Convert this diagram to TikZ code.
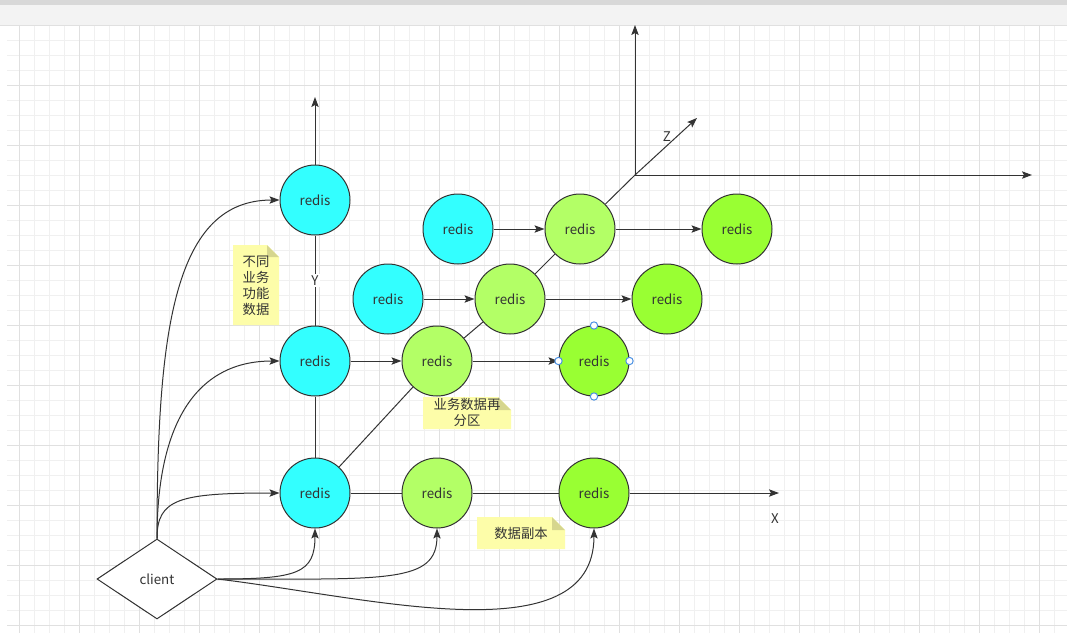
\documentclass[tikz,border=0pt]{standalone}
\usepackage{fontspec}
\setmainfont{Noto Sans CJK SC}
\usetikzlibrary{shapes.geometric,arrows.meta}
\definecolor{cyanr}{HTML}{33FFFF}
\definecolor{lgreen}{HTML}{B3FF66}
\definecolor{dgreen}{HTML}{99FF33}
\definecolor{strk}{HTML}{333333}
\definecolor{notey}{HTML}{FDFDA9}
\definecolor{notefold}{HTML}{D6D68E}
\definecolor{gminor}{HTML}{F0F0F0}
\definecolor{gmajor}{HTML}{E0E0E0}
\definecolor{hdl}{HTML}{4A90E2}
\definecolor{topdark}{HTML}{D8D8D8}
\definecolor{toplight}{HTML}{F3F3F3}
\begin{document}
\begin{tikzpicture}[x=0.75pt,y=-0.75pt,
  txt/.style={font=\fontsize{10pt}{12pt}\selectfont,text=strk},
  redis/.style={circle,draw=strk,line width=0.75pt,minimum size=52.5pt,inner sep=0pt,txt},
  cy/.style={redis,fill=cyanr},
  lg/.style={redis,fill=lgreen},
  dg/.style={redis,fill=dgreen},
  conn/.style={draw=strk,line width=0.75pt},
  arr/.style={conn,-{Stealth[length=7.5pt,width=5.5pt,inset=1.5pt]}},
  lab/.style={txt,inner sep=1pt},
  notetext/.style={txt,align=center,inner sep=0pt},
  handle/.style={circle,draw=hdl,fill=white,line width=0.75pt,minimum size=5.5pt,inner sep=0pt},
  client/.style={diamond,draw=strk,fill=white,line width=0.75pt,minimum width=90pt,minimum height=60pt,inner sep=0pt,txt}]
\useasboundingbox (0,0) rectangle (1067,633);
% background
\fill[white] (0,0) rectangle (1067,633);
\foreach \x in {19,34,...,1066} \draw[gminor,line width=0.75pt] (\x,25) -- (\x,633);
\foreach \y in {40,55,...,632} \draw[gminor,line width=0.75pt] (7,\y) -- (1067,\y);
\foreach \x in {19,79,...,1066} \draw[gmajor,line width=0.75pt] (\x,25) -- (\x,633);
\foreach \y in {85,145,...,632} \draw[gmajor,line width=0.75pt] (7,\y) -- (1067,\y);
\fill[topdark] (0,0) rectangle (1067,5);
\fill[toplight] (0,5) rectangle (1067,25);
\draw[gmajor,line width=0.75pt] (0,25) -- (1067,25);

% nodes
\node[cy] (r1) at (315,200) {redis};
\node[cy] (r2) at (315,361) {redis};
\node[cy] (r3) at (315,493) {redis};
\node[cy] (c2) at (388,299) {redis};
\node[cy] (c1) at (458,229) {redis};
\node[lg] (l1) at (437,361) {redis};
\node[lg] (l2) at (510,299) {redis};
\node[lg] (l3) at (580,229) {redis};
\node[lg] (l4) at (437,493) {redis};
\node[dg] (g1) at (737,229) {redis};
\node[dg] (g2) at (667,299) {redis};
\node[dg] (g3) at (594,361) {redis};
\node[dg] (g4) at (594,493) {redis};
\node[client] (cl) at (157,579) {client};

\coordinate (zo) at (635,175);
\coordinate (ztip) at (697,118);
\coordinate (ytip) at (315,97);
\coordinate (uptip) at (635,25);
\coordinate (rtip) at (1032,175);
\coordinate (xtip) at (779,493);

% axes
\draw[arr] (r1.north) -- (ytip);
\draw[conn] (r1) -- node[lab,fill=white] (yl) {Y} (r2);
\draw[conn] (r2) -- (r3);
\draw[conn] (r3) -- (l4);
\draw[conn] (l4) -- (g4);
\draw[arr] (g4.east) -- (xtip);
\draw[conn] (r3) -- (l1);
\draw[conn] (l1) -- (l2);
\draw[conn] (l2) -- (l3);
\draw[conn] (l3) -- (zo);
\draw[arr] (zo) -- (ztip);
\draw[arr] (zo) -- (uptip);
\draw[arr] (zo) -- (rtip);
\node[lab] (zl) at (667,137) {Z};
\node[lab] (xl) at (775,519) {X};

% horizontal arrows
\draw[arr] (r2) -- (l1);
\draw[arr] (l1) -- (g3);
\draw[arr] (c2) -- (l2);
\draw[arr] (l2) -- (g2);
\draw[arr] (c1) -- (l3);
\draw[arr] (l3) -- (g1);

% client connectors
\draw[arr] (cl.north) .. controls +(0,-210) and +(-105,0) .. (r1.west);
\draw[arr] (cl.north) .. controls +(0,-120) and +(-80,0) .. (r2.west);
\draw[arr] (cl.north) .. controls +(0,-40) and +(-100,0) .. (r3.west);
\draw[arr] (cl.east) .. controls +(80,0) and +(0,45) .. (r3.south);
\draw[arr] (cl.east) .. controls +(170,0) and +(0,55) .. (l4.south);
\draw[arr] (cl.east) .. controls +(150,18) and +(0,128) .. (g4.south);

% selection handles
\node[handle] (h1) at (g3.north) {};
\node[handle] (h2) at (g3.south) {};
\node[handle] (h3) at (g3.east) {};
\node[handle] (h4) at (g3.west) {};

% notes
\fill[notey] (233,245) -- (267,245) -- (279,257) -- (279,325) -- (233,325) -- cycle;
\fill[notefold] (267,245) -- (279,257) -- (267,257) -- cycle;
\node[notetext] (n1) at (256,286) {不同\\业务\\功能\\数据};

\fill[notey] (423,397) -- (498,397) -- (511,410) -- (511,429) -- (423,429) -- cycle;
\fill[notefold] (498,397) -- (511,410) -- (498,410) -- cycle;
\node[notetext] (n2) at (467,412) {业务数据再\\分区};

\fill[notey] (477,517) -- (552,517) -- (565,530) -- (565,549) -- (477,549) -- cycle;
\fill[notefold] (552,517) -- (565,530) -- (552,530) -- cycle;
\node[notetext] (n3) at (521,533) {数据副本};
\end{tikzpicture}
\end{document}
